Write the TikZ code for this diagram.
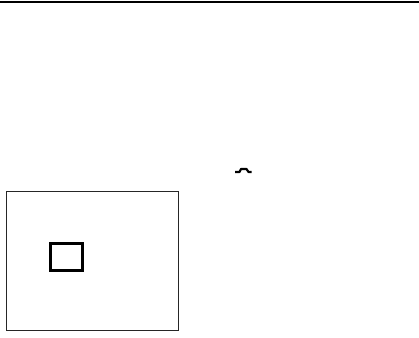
\documentclass[tikz,border=0pt]{standalone}
\usepackage{tikz}
\usetikzlibrary{positioning}
\begin{document}
\begin{tikzpicture}[x=1pt,y=-1pt,
    frame/.style={rectangle, draw=black!85, line width=1pt, inner sep=0pt},
    window/.style={rectangle, draw=black, line width=2.6pt, inner sep=0pt}]
    \useasboundingbox (0,0) rectangle (419,337);
    % rule at the top
    \coordinate (ruleL) at (0,2.5);
    \coordinate (ruleR) at (419,2.5);
    \draw[line width=2pt] (ruleL) -- (ruleR);
    % the small mark
    \coordinate (mark) at (243.5,171);
    \draw[line width=2.2pt, line join=round] ([xshift=-8.5pt,yshift=-1pt]mark) -- ([xshift=-4pt,yshift=-1pt]mark) -- ([xshift=-2.5pt,yshift=2pt]mark) -- ([xshift=3pt,yshift=2pt]mark) -- ([xshift=5pt,yshift=-1pt]mark) -- ([xshift=8pt,yshift=-1pt]mark);
    % outer frame and inner box
    \node[frame, minimum width=172pt, minimum height=139pt] (outer) at (92,260.5) {};
    \node[window, minimum width=32pt, minimum height=27pt] (inner) at (66.5,257) {};
\end{tikzpicture}
\end{document}
